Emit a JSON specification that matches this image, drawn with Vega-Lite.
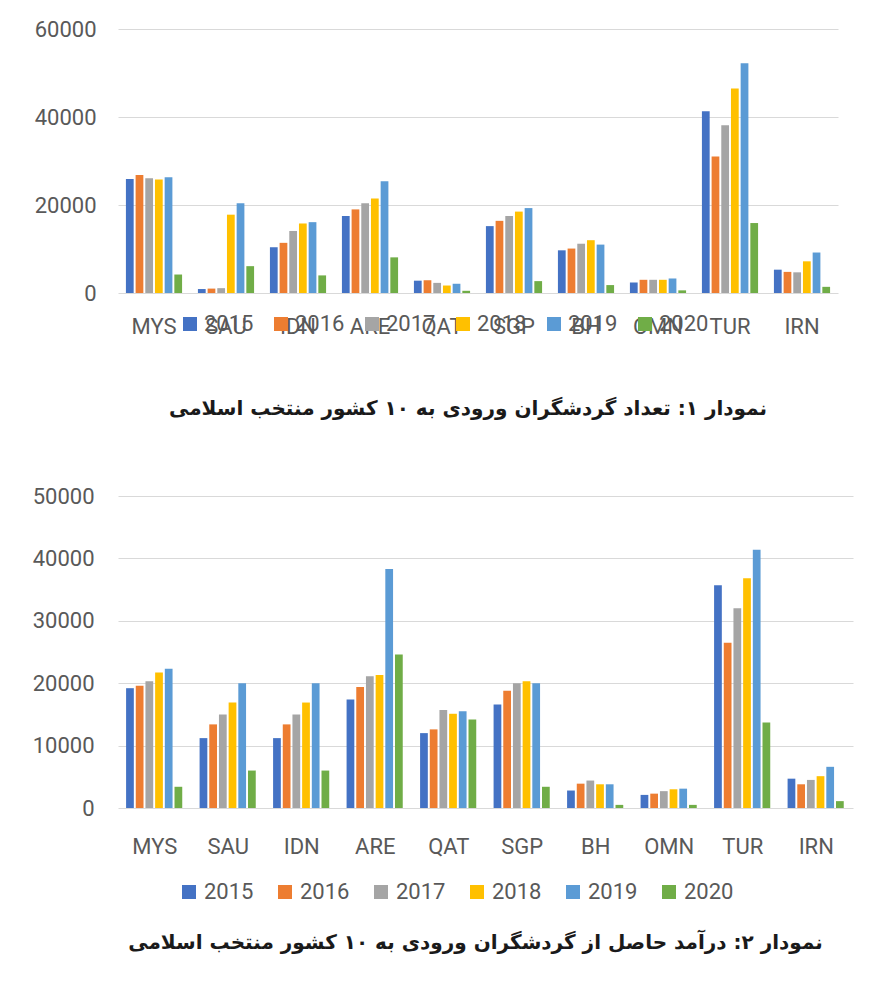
{
  "$schema": "https://vega.github.io/schema/vega-lite/v6.json",
  "background": "white",
  "padding": {"left": 32, "top": 18, "right": 10, "bottom": 10},
  "spacing": 66,
  "config": {"view": {"stroke": null}},
  "datasets": {
    "arrivals": [
      {"country": "MYS", "year": "2015", "value": 25900}, {"country": "MYS", "year": "2016", "value": 26800}, {"country": "MYS", "year": "2017", "value": 26100}, {"country": "MYS", "year": "2018", "value": 25800}, {"country": "MYS", "year": "2019", "value": 26300}, {"country": "MYS", "year": "2020", "value": 4200},
      {"country": "SAU", "year": "2015", "value": 900}, {"country": "SAU", "year": "2016", "value": 1000}, {"country": "SAU", "year": "2017", "value": 1100}, {"country": "SAU", "year": "2018", "value": 17800}, {"country": "SAU", "year": "2019", "value": 20400}, {"country": "SAU", "year": "2020", "value": 6100},
      {"country": "IDN", "year": "2015", "value": 10400}, {"country": "IDN", "year": "2016", "value": 11400}, {"country": "IDN", "year": "2017", "value": 14100}, {"country": "IDN", "year": "2018", "value": 15800}, {"country": "IDN", "year": "2019", "value": 16100}, {"country": "IDN", "year": "2020", "value": 4000},
      {"country": "ARE", "year": "2015", "value": 17500}, {"country": "ARE", "year": "2016", "value": 19000}, {"country": "ARE", "year": "2017", "value": 20400}, {"country": "ARE", "year": "2018", "value": 21500}, {"country": "ARE", "year": "2019", "value": 25400}, {"country": "ARE", "year": "2020", "value": 8100},
      {"country": "QAT", "year": "2015", "value": 2800}, {"country": "QAT", "year": "2016", "value": 2900}, {"country": "QAT", "year": "2017", "value": 2300}, {"country": "QAT", "year": "2018", "value": 1700}, {"country": "QAT", "year": "2019", "value": 2100}, {"country": "QAT", "year": "2020", "value": 500},
      {"country": "SGP", "year": "2015", "value": 15200}, {"country": "SGP", "year": "2016", "value": 16400}, {"country": "SGP", "year": "2017", "value": 17500}, {"country": "SGP", "year": "2018", "value": 18500}, {"country": "SGP", "year": "2019", "value": 19300}, {"country": "SGP", "year": "2020", "value": 2700},
      {"country": "BH", "year": "2015", "value": 9700}, {"country": "BH", "year": "2016", "value": 10100}, {"country": "BH", "year": "2017", "value": 11200}, {"country": "BH", "year": "2018", "value": 12000}, {"country": "BH", "year": "2019", "value": 11000}, {"country": "BH", "year": "2020", "value": 1800},
      {"country": "OMN", "year": "2015", "value": 2400}, {"country": "OMN", "year": "2016", "value": 3000}, {"country": "OMN", "year": "2017", "value": 3000}, {"country": "OMN", "year": "2018", "value": 3000}, {"country": "OMN", "year": "2019", "value": 3300}, {"country": "OMN", "year": "2020", "value": 600},
      {"country": "TUR", "year": "2015", "value": 41300}, {"country": "TUR", "year": "2016", "value": 31000}, {"country": "TUR", "year": "2017", "value": 38100}, {"country": "TUR", "year": "2018", "value": 46500}, {"country": "TUR", "year": "2019", "value": 52200}, {"country": "TUR", "year": "2020", "value": 15900},
      {"country": "IRN", "year": "2015", "value": 5300}, {"country": "IRN", "year": "2016", "value": 4800}, {"country": "IRN", "year": "2017", "value": 4700}, {"country": "IRN", "year": "2018", "value": 7200}, {"country": "IRN", "year": "2019", "value": 9200}, {"country": "IRN", "year": "2020", "value": 1400}
    ],
    "revenue": [
      {"country": "MYS", "year": "2015", "value": 19200}, {"country": "MYS", "year": "2016", "value": 19600}, {"country": "MYS", "year": "2017", "value": 20300}, {"country": "MYS", "year": "2018", "value": 21700}, {"country": "MYS", "year": "2019", "value": 22300}, {"country": "MYS", "year": "2020", "value": 3400},
      {"country": "SAU", "year": "2015", "value": 11200}, {"country": "SAU", "year": "2016", "value": 13400}, {"country": "SAU", "year": "2017", "value": 15000}, {"country": "SAU", "year": "2018", "value": 16900}, {"country": "SAU", "year": "2019", "value": 20000}, {"country": "SAU", "year": "2020", "value": 6000},
      {"country": "IDN", "year": "2015", "value": 11200}, {"country": "IDN", "year": "2016", "value": 13400}, {"country": "IDN", "year": "2017", "value": 15000}, {"country": "IDN", "year": "2018", "value": 16900}, {"country": "IDN", "year": "2019", "value": 20000}, {"country": "IDN", "year": "2020", "value": 6000},
      {"country": "ARE", "year": "2015", "value": 17400}, {"country": "ARE", "year": "2016", "value": 19400}, {"country": "ARE", "year": "2017", "value": 21100}, {"country": "ARE", "year": "2018", "value": 21300}, {"country": "ARE", "year": "2019", "value": 38300}, {"country": "ARE", "year": "2020", "value": 24600},
      {"country": "QAT", "year": "2015", "value": 12000}, {"country": "QAT", "year": "2016", "value": 12600}, {"country": "QAT", "year": "2017", "value": 15700}, {"country": "QAT", "year": "2018", "value": 15100}, {"country": "QAT", "year": "2019", "value": 15500}, {"country": "QAT", "year": "2020", "value": 14200},
      {"country": "SGP", "year": "2015", "value": 16600}, {"country": "SGP", "year": "2016", "value": 18800}, {"country": "SGP", "year": "2017", "value": 20000}, {"country": "SGP", "year": "2018", "value": 20300}, {"country": "SGP", "year": "2019", "value": 20000}, {"country": "SGP", "year": "2020", "value": 3400},
      {"country": "BH", "year": "2015", "value": 2800}, {"country": "BH", "year": "2016", "value": 3900}, {"country": "BH", "year": "2017", "value": 4400}, {"country": "BH", "year": "2018", "value": 3800}, {"country": "BH", "year": "2019", "value": 3800}, {"country": "BH", "year": "2020", "value": 500},
      {"country": "OMN", "year": "2015", "value": 2100}, {"country": "OMN", "year": "2016", "value": 2300}, {"country": "OMN", "year": "2017", "value": 2700}, {"country": "OMN", "year": "2018", "value": 3000}, {"country": "OMN", "year": "2019", "value": 3100}, {"country": "OMN", "year": "2020", "value": 500},
      {"country": "TUR", "year": "2015", "value": 35700}, {"country": "TUR", "year": "2016", "value": 26500}, {"country": "TUR", "year": "2017", "value": 32000}, {"country": "TUR", "year": "2018", "value": 36800}, {"country": "TUR", "year": "2019", "value": 41400}, {"country": "TUR", "year": "2020", "value": 13700},
      {"country": "IRN", "year": "2015", "value": 4700}, {"country": "IRN", "year": "2016", "value": 3800}, {"country": "IRN", "year": "2017", "value": 4500}, {"country": "IRN", "year": "2018", "value": 5100}, {"country": "IRN", "year": "2019", "value": 6600}, {"country": "IRN", "year": "2020", "value": 1100}
    ]
  },
  "resolve": {"legend": {"color": "independent"}, "scale": {"color": "independent"}},
  "vconcat": [
    {
      "width": 720,
      "height": 264,
      "data": {"name": "arrivals"},
      "title": {"text": "نمودار ۱: تعداد گردشگران ورودی به ۱۰ کشور منتخب اسلامی", "orient": "bottom", "anchor": "middle", "frame": "group", "dx": -10, "offset": 62, "font": "DejaVu Sans", "fontSize": 20, "fontWeight": "bold", "color": "#1a1a1a"},
      "mark": {"type": "bar"},
      "encoding": {
        "x": {"field": "country", "type": "nominal", "sort": null, "scale": {"paddingInner": 0.22, "paddingOuter": 0.11},
          "axis": {"title": null, "labelAngle": 0, "ticks": false, "domain": false, "labelPadding": 23, "labelFontSize": 22, "labelFont": "Roboto", "labelColor": "#595959"}},
        "xOffset": {"field": "year", "type": "nominal", "scale": {"paddingInner": 0.2}},
        "y": {"field": "value", "type": "quantitative", "scale": {"domain": [0, 60000]},
          "axis": {"title": null, "values": [0, 20000, 40000, 60000], "format": "d", "ticks": false, "domain": false, "labelPadding": 22, "labelFontSize": 22, "labelFont": "Roboto", "labelColor": "#595959", "gridColor": "#d9d9d9"}},
        "color": {"field": "year", "type": "nominal",
          "scale": {"domain": ["2015", "2016", "2017", "2018", "2019", "2020"], "range": ["#4472C4", "#ED7D31", "#A5A5A5", "#FFC000", "#5B9BD5", "#70AD47"]},
          "legend": {"title": null, "orient": "none", "legendX": 61, "legendY": 284, "direction": "horizontal", "columns": 6, "columnPadding": 16, "symbolType": "square", "symbolSize": 196, "symbolStrokeWidth": 0, "labelFontSize": 22, "labelFont": "Roboto", "labelColor": "#595959", "labelOffset": 3}}
      }
    },
    {
      "width": 735,
      "height": 312,
      "data": {"name": "revenue"},
      "title": {"text": "نمودار ۲: درآمد حاصل از گردشگران ورودی به ۱۰ کشور منتخب اسلامی", "orient": "bottom", "anchor": "middle", "frame": "group", "dx": -10, "offset": 30, "font": "DejaVu Sans", "fontSize": 20, "fontWeight": "bold", "color": "#1a1a1a"},
      "mark": {"type": "bar"},
      "encoding": {
        "x": {"field": "country", "type": "nominal", "sort": null, "scale": {"paddingInner": 0.22, "paddingOuter": 0.11},
          "axis": {"title": null, "labelAngle": 0, "ticks": false, "domain": false, "labelPadding": 28, "labelFontSize": 22, "labelFont": "Roboto", "labelColor": "#595959"}},
        "xOffset": {"field": "year", "type": "nominal", "scale": {"paddingInner": 0.2}},
        "y": {"field": "value", "type": "quantitative", "scale": {"domain": [0, 50000]},
          "axis": {"title": null, "values": [0, 10000, 20000, 30000, 40000, 50000], "format": "d", "ticks": false, "domain": false, "labelPadding": 24, "labelFontSize": 22, "labelFont": "Roboto", "labelColor": "#595959", "gridColor": "#d9d9d9"}},
        "color": {"field": "year", "type": "nominal",
          "scale": {"domain": ["2015", "2016", "2017", "2018", "2019", "2020"], "range": ["#4472C4", "#ED7D31", "#A5A5A5", "#FFC000", "#5B9BD5", "#70AD47"]},
          "legend": {"title": null, "orient": "none", "legendX": 60, "legendY": 385, "direction": "horizontal", "columns": 6, "columnPadding": 20, "symbolType": "square", "symbolSize": 196, "symbolStrokeWidth": 0, "labelFontSize": 22, "labelFont": "Roboto", "labelColor": "#595959", "labelOffset": 4}}
      }
    }
  ]
}
